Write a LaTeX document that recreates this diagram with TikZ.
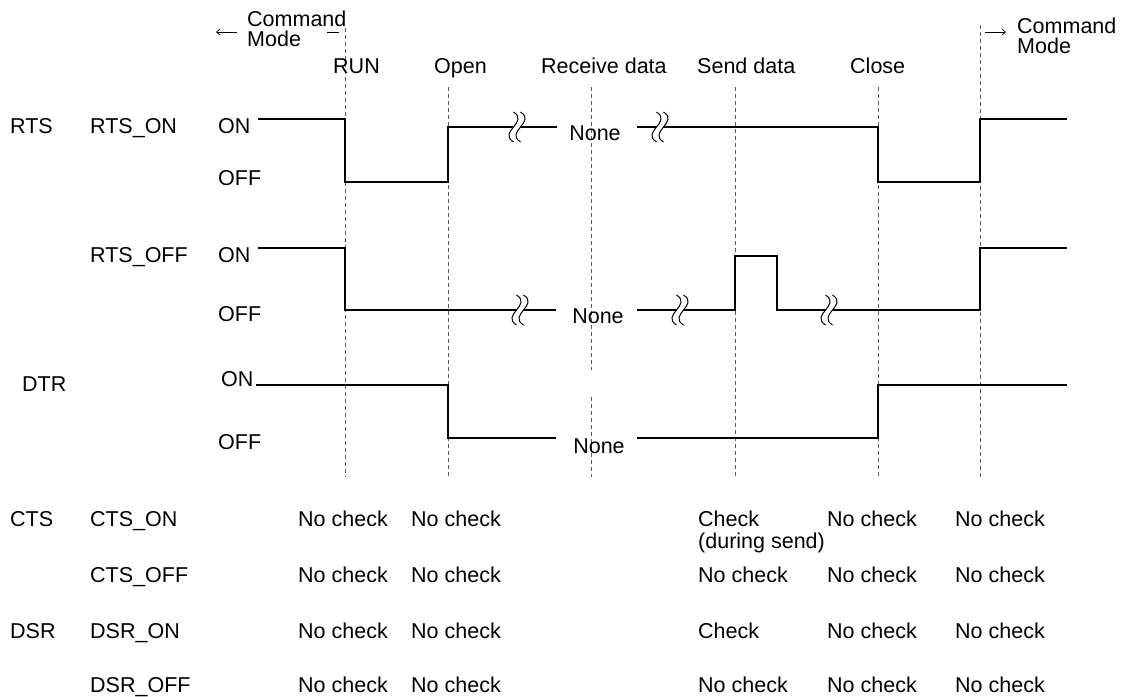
\documentclass[tikz,border=0pt]{standalone}
\usepackage{fontspec}
\setmainfont{Liberation Sans}
\usetikzlibrary{arrows.meta}
\begin{document}
\begin{tikzpicture}[x=1pt,y=-1pt,
  txt/.style={font=\fontsize{21.5}{20}\selectfont, inner sep=0pt, anchor=base west},
  ctxt/.style={font=\fontsize{21.5}{20}\selectfont, inner sep=0pt, anchor=base},
  sig/.style={line width=1.8pt, line join=miter},
  guide/.style={black!65, line width=0.8pt, dash pattern=on 4pt off 3pt},
  thinarrow/.style={line width=0.7pt, -{Straight Barb[length=3.5pt,width=6pt]}},
  brk/.pic={
    \fill[white] (-3.5,-15) .. controls (12.5,-5) and (-19.5,5) .. (-3.5,15) -- (3.5,15) .. controls (-12.5,5) and (19.5,-5) .. (3.5,-15) -- cycle;
    \draw[line width=1pt] (-3.5,-15) .. controls (12.5,-5) and (-19.5,5) .. (-3.5,15);
    \draw[line width=1pt] (3.5,-15) .. controls (19.5,-5) and (-12.5,5) .. (3.5,15);
  }
]
\useasboundingbox[fill=white] (0,0) rectangle (1123,696);

% guide lines
\draw[guide] (345,28) -- (345,477);
\draw[guide] (448,87) -- (448,477);
\draw[guide] (591,87) -- (591,370);
\draw[guide] (591,397) -- (591,477);
\draw[guide] (735,87) -- (735,477);
\draw[guide] (878,87) -- (878,477);
\draw[guide] (980,25) -- (980,477);

% top labels
\node[txt] (cmL1) at (247,26) {Command};
\node[txt] (cmL2) at (247,46) {Mode};
\coordinate (laA) at (237,32);
\coordinate (laB) at (216,32);
\draw[thinarrow] (laA) -- (laB);
\coordinate (lbA) at (327,32);
\coordinate (lbB) at (339,32);
\draw[line width=0.7pt] (lbA) -- (lbB);
\node[txt] (cmR1) at (1017,33) {Command};
\node[txt] (cmR2) at (1017,53) {Mode};
\coordinate (raA) at (985,32);
\coordinate (raB) at (1006,32);
\draw[thinarrow] (raA) -- (raB);

\node[txt] (lrun) at (333,73) {RUN};
\node[txt] (lopen) at (434,73) {Open};
\node[txt] (lrecv) at (541,73) {Receive data};
\node[txt] (lsend) at (697,73) {Send data};
\node[txt] (lclose) at (850,73) {Close};

% row labels
\node[txt] (rts) at (10,133) {RTS};
\node[txt] (rtson) at (90,133) {RTS\_ON};
\node[txt] (on1) at (218,133) {ON};
\node[txt] (off1) at (218,185) {OFF};
\node[txt] (rtsoff) at (90,262) {RTS\_OFF};
\node[txt] (on2) at (218,262) {ON};
\node[txt] (off2) at (218,321) {OFF};
\node[txt] (dtr) at (22,391) {DTR};
\node[txt] (on3) at (221,386) {ON};
\node[txt] (off3) at (218,449) {OFF};

% RTS_ON waveform
\draw[sig] (258,119) -- (345,119) -- (345,182) -- (448,182) -- (448,127) -- (557,127);
\draw[sig] (637,127) -- (878,127) -- (878,182) -- (980,182) -- (980,119) -- (1067,119);
\node[ctxt] (none1) at (595,140) {None};
\pic at (517,127) {brk};
\pic at (660,127) {brk};

% RTS_OFF waveform
\draw[sig] (258,248) -- (345,248) -- (345,310) -- (556,310);
\draw[sig] (637,310) -- (735,310) -- (735,256) -- (777,256) -- (777,310) -- (980,310) -- (980,248) -- (1067,248);
\node[ctxt] (none2) at (598,323) {None};
\pic at (520,310) {brk};
\pic at (680,310) {brk};
\pic at (829,310) {brk};

% DTR waveform
\draw[sig] (256,385) -- (448,385) -- (448,438) -- (556,438);
\draw[sig] (637,438) -- (878,438) -- (878,385) -- (1067,385);
\node[ctxt] (none3) at (599,453) {None};

% CTS / DSR table
\node[txt] (cts) at (10,526) {CTS};
\node[txt] (ctson) at (90,526) {CTS\_ON};
\node[txt] (c11) at (298,526) {No check};
\node[txt] (c12) at (411,526) {No check};
\node[txt] (c13) at (698,526) {Check};
\node[txt] (c13b) at (698,548) {(during send)};
\node[txt] (c14) at (827,526) {No check};
\node[txt] (c15) at (955,526) {No check};

\node[txt] (ctsoff) at (90,582) {CTS\_OFF};
\node[txt] (c21) at (298,582) {No check};
\node[txt] (c22) at (411,582) {No check};
\node[txt] (c23) at (698,582) {No check};
\node[txt] (c24) at (827,582) {No check};
\node[txt] (c25) at (955,582) {No check};

\node[txt] (dsr) at (10,638) {DSR};
\node[txt] (dsron) at (90,638) {DSR\_ON};
\node[txt] (c31) at (298,638) {No check};
\node[txt] (c32) at (411,638) {No check};
\node[txt] (c33) at (698,638) {Check};
\node[txt] (c34) at (827,638) {No check};
\node[txt] (c35) at (955,638) {No check};

\node[txt] (dsroff) at (90,692) {DSR\_OFF};
\node[txt] (c41) at (298,692) {No check};
\node[txt] (c42) at (411,692) {No check};
\node[txt] (c43) at (698,692) {No check};
\node[txt] (c44) at (827,692) {No check};
\node[txt] (c45) at (955,692) {No check};
\end{tikzpicture}
\end{document}
